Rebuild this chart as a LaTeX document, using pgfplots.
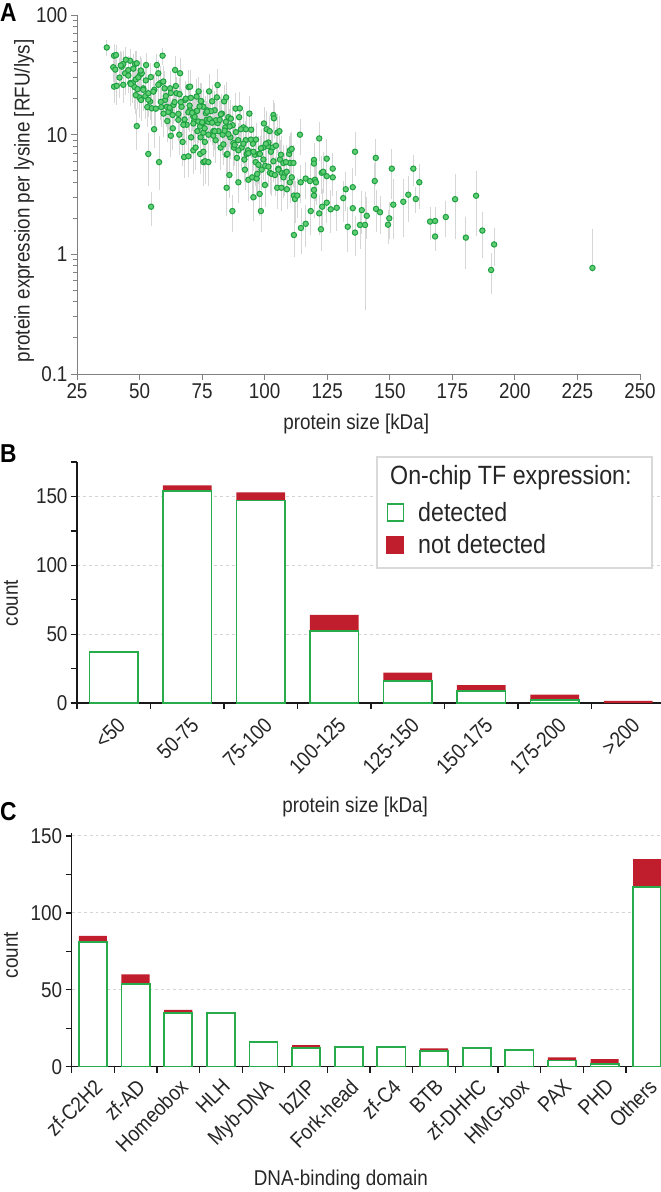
\documentclass[border=0pt]{standalone}
\usepackage{fontspec}
\setmainfont{Liberation Sans}[FakeStretch=0.88]
\usepackage{pgfplots}
\usepackage{pgfplotstable}
\pgfplotsset{compat=1.18}

\definecolor{ptgreen}{RGB}{30,160,65}
\definecolor{ptlight}{RGB}{95,205,115}
\definecolor{errgray}{RGB}{214,214,214}
\definecolor{bargreen}{RGB}{40,172,75}
\definecolor{barred}{RGB}{192,30,45}
\definecolor{gridgray}{RGB}{212,212,212}

% panel A: size [kDa], expression per lysine, error plus / minus
\pgfplotstableread{
x y ep em
36.9 53.5 6 6
39.8 45.7 9 8
40.6 46.3 8 9
39.5 36.6 7 8
40.3 35 8 7
39.8 25.2 9 6
40.9 25.6 8 7
42.0 30 12 9
42.9 37 10 8
43.5 39 9 9
44.2 32.6 11 10
45.5 34.7 9 8
46.2 41.5 8 10
46.3 27 10 9
47.3 27.2 9 8
48.2 39 9 10
48.9 39.5 8 9
48.0 25 9 8
48.5 29 8 7
49.2 24 10 7
49.9 20.5 9 6
50.2 31.6 8 9
50.9 32.6 9 8
50.6 19.5 7 6
51.5 24.4 10 8
52.6 38.2 8 9
52.3 21 6 7
53.5 22.2 7 6
53.1 17 6 5
54.2 18.9 6 5
54.9 16.6 6 4
48.9 11.8 4 4
55.8 11.1 4 3
53.5 6.9 3 3
54.6 2.5 0.7 0.7
55.9 23.7 7 7
56.9 38.2 7 9
57.5 32.6 8 8
58.2 26.9 9 8
57.8 5.9 3.5 2.3
58.7 17 6 5
59.2 45.7 5 6
59.6 15 5 5
60.2 19.5 7 6
60.9 17.1 6 5
61.1 13 5 4
62.2 24.4 8 8
62.1 16 6 5
62.5 9.8 3.5 3
63.2 14.6 5 4
63.3 11.3 4 3.5
64.2 34.7 9 10
64.8 22.2 7 7
65.5 13.3 5 4
65.9 10 4 3
66.2 32.6 9 8
66.8 17.1 6 5
67.2 8.7 3 3
67.8 6.5 3 2
68.2 19.5 7 6
68.8 12.1 4 3.5
69.5 6.6 3 2
69.6 25 8 7
70.2 25.2 8 7
70.1 16 5 5
70.6 9.5 3 3
71.5 14.1 5 4
71.5 7.4 3 2.5
71.8 13 5 4
72.8 20.8 7 6
72.4 7.8 4 2.5
73.1 10.7 4 3
73.6 23 6 7
74.2 11.7 4 3.5
74.2 6.9 3 2
74.4 9.5 3 3
74.7 19 7 6
75.5 17.1 6 5
75.3 12.5 5 4
75.5 7.2 3 2
75.5 5.9 2.5 2
76.1 8.7 3 3
76.2 6.0 2.5 2
76.8 13.3 5 4
77.0 16 5 5
77.5 10 4 3
77.5 5.9 2.5 2
77.8 23 8 7
78.3 13 5 4
79.0 19 6 6
79.5 10.7 4 3
80.0 16 6 5
80.4 9 3 3
80.9 20.5 6 6
81.2 26 8 7
81.2 12.5 5 4
82.4 7.8 3 2.5
82.9 15 6 5
83.2 10 4 3
83.8 19 6 6
84.3 11.5 4 3.5
84.6 20.5 6 6
84.8 6.8 3 2
84.8 3.6 1.5 1.4
85.1 6.9 3 2
85.5 14 5 4
85.9 4.6 2 1.5
86.3 9.5 3 3
87.1 2.3 0.7 0.7
87.2 12 5 4
87.7 7.8 3 2.5
88.4 16.5 5 5
88.9 6.4 3 2
89.4 9 3 3
89.5 4.0 1.5 1.2
89.8 14 5 4
90.1 16.6 5 5
90.8 7.8 3 2.5
91.5 11.5 4 3.5
91.9 6.2 2.5 2
92.1 5.1 2 1.5
92.4 9 3.5 3
92.8 6.9 2.5 2
93.3 7.4 3 2.5
93.5 4.2 1.5 1.3
93.9 15.0 5 4
94.6 11 4 3
95.0 4.4 2 1.5
95.3 8.4 3 2.5
95.5 3.0 1 1
96.1 6.8 2.5 2
96.4 5.9 2.5 2
96.8 4.3 1.5 1.3
97.0 4.7 2 1.5
97.6 6.9 2.5 2
98.0 3.2 1.2 1
98.1 6.9 2.5 2
98.5 2.3 0.8 0.7
98.8 5.1 2 1.5
99.4 7.8 3 2.5
99.7 12.4 4 3.5
100.1 3.8 1.3 1.2
100.2 5.5 2 1.8
100.8 11.1 4 3
101.4 8 3 2.5
101.5 8.6 3 2.5
102.0 10.7 3 3
102.1 4.8 1.7 1.5
102.8 4.7 2 1.5
103.2 7.8 2.5 2
103.5 14.6 4 4
103.7 13.7 4 4
104.1 4.6 1.6 1.4
105.0 3.6 1.3 1.1
105.1 10.4 4 3
105.5 5.2 2 1.5
105.9 10.7 3 3
106.1 6.2 2.5 2
106.7 3.6 1.5 1.2
106.8 4.8 1.7 1.5
107.5 5.8 2 2
108.0 4.7 2 1.5
108.8 4.9 1.7 1.5
108.9 3.5 1.2 1
109.8 6.9 2.5 2
110.1 5.8 2 2
110.1 7.4 2.5 2
110.1 4.0 1.5 1.2
110.8 7.6 2.5 2
110.8 4.4 1.5 1.3
111.5 5.8 2 2
111.7 3.1 1.2 1
111.7 1.45 0.6 0.45
112.1 2.9 1 1
113.0 3.1 1.1 1
114.1 10 3 3
114.4 4.0 1.3 1.2
114.5 1.66 0.7 0.6
116.4 4.3 1.4 1.3
116.4 1.8 0.7 0.6
118.1 4.1 1.4 1.3
118.4 2.3 0.9 0.8
119.7 6.15 2 2
119.7 5.74 2 2
119.7 3.45 1.3 1.2
119.7 3.1 1 1
120.1 4.2 1.6 1.3
120.5 4.0 1.4 1.3
121.8 9.3 3 3
121.8 2.2 0.8 0.7
122.5 1.62 0.5 0.5
122.8 4.8 1.5 1.5
123.0 2.5 0.9 0.8
123.4 4.9 2 1.5
124.8 6.3 2.5 2
124.8 4.5 1.5 1.5
124.8 2.7 0.9 0.8
126.4 2.38 0.9 0.8
127.2 4.4 1.2 1.2
127.2 5.2 1.5 1.5
128.8 2.45 0.8 0.8
131.4 2.95 1 1
132.4 3.5 1.2 1.1
133.2 1.7 0.7 0.6
135.2 3.64 1.4 1.3
135.2 2.43 0.8 0.8
136.1 7.2 2.8 2.5
136.1 1.52 0.5 0.5
138.1 1.76 0.6 0.6
138.8 2.34 0.9 0.8
140.1 1.76 1.4 1.4
140.8 2.1 0.8 0.7
144.0 4.1 1.5 1.4
144.4 6.4 2.5 2.5
144.5 2.4 0.9 0.8
146.1 2.25 0.7 0.7
149.3 1.77 0.5 0.5
149.8 2.0 0.6 0.6
150.8 5.2 2.1 2.2
151.4 2.6 1.5 1.2
155.4 2.75 1.3 1.3
157.4 3.15 1.2 1.2
159.4 5.2 1.3 1.3
160.4 2.9 0.6 0.6
161.8 4.0 1.5 1.5
166.1 1.88 0.5 0.5
168.1 1.9 0.5 0.5
168.1 1.41 0.3 0.3
172.4 2.05 0.65 0.6
176.1 2.89 1.6 1.5
180.4 1.38 0.6 0.6
184.5 3.09 1.7 1.6
187.0 1.58 0.6 0.6
190.5 0.74 0.24 0.25
191.7 1.21 0.37 0.38
231.0 0.77 0.8 0.02
42.5 37.9 10 9
43.5 26.1 9 7
44.5 42.3 9 10
45.5 31.2 10 8
46.5 26.5 8 7
47.5 35.6 10 9
48.5 21.4 8 6
49.5 30.1 9 8
50.5 34.4 9 9
51.5 23.7 8 6
52.5 28.4 9 8
53.5 19.6 7 5
54.5 30.3 8 8
55.5 22.9 8 6
56.5 16.5 6 5
57.5 26.1 8 7
58.5 18.8 7 5
59.5 27.8 8 7
60.5 21.0 7 6
61.5 15.5 6 4
62.5 22.3 7 6
63.5 17.7 6 5
64.5 25.5 8 7
65.5 14.9 5 4
66.5 18.7 6 5
67.5 12.1 5 3.5
68.5 20.0 7 6
69.5 15.4 5 4
70.5 20.3 7 6
71.5 12.4 5 3.5
72.5 15.6 6 4
73.5 12.9 5 4
74.5 19.1 7 5
75.5 10.4 4 3
76.5 15.1 5 4
77.5 12.8 5 4
78.5 15.7 6 4
79.5 9.8 4 3
80.5 13.2 5 4
81.5 10.7 4 3
82.5 14.8 5 4
83.5 8.3 3 2.5
84.5 12.8 5 4
85.5 10.1 4 3
86.5 13.6 5 4
87.5 8.5 3 2.5
88.5 10.5 4 3
89.5 7.4 3 2
90.5 11.1 4 3
91.5 8.4 3 2.5
92.5 11.1 4 3
93.5 7.0 3 2
94.5 9.1 3 2.5
95.5 7.2 3 2
96.5 9.1 3 2.5
97.5 5.6 2 1.6
98.5 7.7 3 2
99.5 6.2 2.5 1.8
100.5 8.4 3 2.5
101.5 5.4 2 1.6
102.5 7.2 2.5 2
103.5 6.0 2 1.8
104.5 8.1 3 2.3
105.5 5.1 2 1.5
106.5 6.8 2.5 2
107.5 4.4 1.6 1.3
108.5 5.9 2 1.7
60.0 24.4 8 7
62.0 16.8 6 5
64.0 18.7 6 5
66.0 21.8 7 6
68.0 13.4 5 4
70.0 17.5 6 5
72.0 14.1 5 4
74.0 17.2 6 5
76.0 11.3 4 3
78.0 13.5 5 4
80.0 10.7 4 3
82.0 13.3 5 4
84.0 10.8 4 3
86.0 11.7 4 3.5
88.0 8.2 3 2.5
71.0 15.2 5 4
73.0 15.8 6 4
75.0 12.7 5 4
77.0 15.6 5 4
79.0 12.6 5 4
}\sizedata

% panel B: counts per size bin
\pgfplotstableread{
c det nd
0 37 0
1 154 4
2 147 6
3 52 12
4 16 6
5 9 4
6 2 4
7 0 1.5
}\sizebins

% panel C: counts per DNA-binding domain
\pgfplotstableread{
c det nd
0 81 4
1 54 6
2 35 2
3 35 0
4 16 0
5 12 2
6 13 0
7 13 0
8 10 2
9 12 0
10 11 0
11 4 2
12 2 3
13 117 18
}\domains

\begin{document}
\begin{tikzpicture}
\useasboundingbox (0,0) rectangle (661bp,-1192bp);
\pgfplotsset{
  /pgf/number format/assume math mode=true,
  tick label style={font=\fontsize{21.5}{21.5}\selectfont, text=black!85},
  label style={font=\fontsize{21.5}{21.5}\selectfont, text=black!85},
  scale only axis,
  tick align=outside,
}

% ---------- A ----------
\begin{axis}[
  at={(77bp,-374bp)}, anchor=south west,
  width=563bp, height=359bp,
  ymode=log, xmin=25, xmax=250, ymin=0.1, ymax=100,
  axis x line*=bottom, axis y line*=left,
  axis line style={-, black!50, line width=1bp},
  tick style={black!50, line width=1bp},
  major tick length=6bp, minor tick length=3.5bp,
  xtick={25,50,...,250},
  ytick={0.1,1,10,100}, yticklabels={0.1,1,10,100},
  minor ytick={0.2,0.3,0.4,0.5,0.6,0.7,0.8,0.9,2,3,4,5,6,7,8,9,20,30,40,50,60,70,80,90},
  xlabel={protein size [kDa]},
  ylabel={protein expression per lysine [RFU/lys]},
  xlabel style={at={([yshift=-50bp]rel axis cs:0.496,0)}, anchor=center},
  ylabel style={at={([xshift=-53bp]rel axis cs:0,0.482)}, anchor=center},
]
\addplot[only marks, mark=none, forget plot,
  error bars/.cd, y dir=both, y explicit,
  error bar style={draw=errgray, line width=0.8bp},
  error mark options={draw=errgray, mark size=2.2bp, line width=0.8bp}]
  table[x=x, y=y, y error plus=ep, y error minus=em]{\sizedata};
\addplot[only marks, mark=*, mark size=2.7bp,
  mark options={draw=ptgreen, fill=ptlight, line width=1bp}]
  table[x=x, y=y]{\sizedata};
\end{axis}

% ---------- B ----------
\begin{axis}[
  at={(77bp,-703bp)}, anchor=south west,
  width=588bp, height=241bp,
  xmin=-0.5, xmax=7.5, ymin=0, ymax=175,
  ybar stacked, bar width=0.66,
  axis x line*=bottom, axis y line*=left,
  axis line style={-, black!90, line width=1.3bp},
  tick style={black!90, line width=1.3bp},
  major tick length=6bp, minor tick length=6bp,
  xtick={0,...,7},
  xticklabels={{<50},{50-75},{75-100},{100-125},{125-150},{150-175},{175-200},{>200}},
  major x tick style={draw=none},
  minor xtick={-0.5,0.5,...,7.5},
  ytick={0,50,100,150}, minor ytick={25,75,125,175},
  ymajorgrids, grid style={dashed, gridgray, line width=1bp},
  x tick label style={rotate=45, anchor=north east, yshift=-3bp},
  xlabel={protein size [kDa]}, ylabel={count},
  xlabel style={at={([yshift=-104bp]rel axis cs:0.473,0)}, anchor=center},
  ylabel style={at={([xshift=-66bp]rel axis cs:0,0.415)}, anchor=center},
]
\addplot[fill=white, draw=bargreen, line width=1.8bp] table[x=c, y=det]{\sizebins};
\addplot[fill=barred, draw=none] table[x=c, y=nd]{\sizebins};
\end{axis}

% legend of B
\draw[gray!30, line width=1.5bp, fill=white] (377bp,-457bp) rectangle (652bp,-568bp);
\node[anchor=base west, inner sep=0, font=\fontsize{26.5}{27}\selectfont, text=black!85] at (390bp,-484bp) {On-chip TF expression:};
\draw[bargreen, line width=1.5bp, fill=white] (387.5bp,-504bp) rectangle (403.5bp,-521bp);
\node[anchor=base west, inner sep=0, font=\fontsize{26.5}{27}\selectfont, text=black!85] at (418bp,-521bp) {detected};
\fill[barred] (386bp,-536bp) rectangle (404bp,-554bp);
\node[anchor=base west, inner sep=0, font=\fontsize{26.5}{27}\selectfont, text=black!85] at (418bp,-553bp) {not detected};

% ---------- C ----------
\begin{axis}[
  at={(71.6bp,-1066.7bp)}, anchor=south west,
  width=597bp, height=233.8bp,
  xmin=-0.5, xmax=13.5, ymin=0, ymax=152,
  ybar stacked, bar width=0.66,
  axis x line*=bottom, axis y line*=left,
  axis line style={-, black!90, line width=1.3bp},
  tick style={black!90, line width=1.3bp},
  major tick length=6bp, minor tick length=6bp,
  xtick={0,...,13},
  xticklabels={zf-C2H2,zf-AD,Homeobox,HLH,Myb-DNA,bZIP,Fork-head,zf-C4,BTB,zf-DHHC,HMG-box,PAX,PHD,Others},
  major x tick style={draw=none},
  minor xtick={-0.5,0.5,...,13.5},
  ytick={0,50,100,150}, minor ytick={25,75,125},
  ymajorgrids, grid style={dashed, gridgray, line width=1bp},
  x tick label style={rotate=45, anchor=north east},
  xlabel={DNA-binding domain}, ylabel={count},
  xlabel style={at={([yshift=-113bp]rel axis cs:0.451,0)}, anchor=center},
  ylabel style={at={([xshift=-60.6bp]rel axis cs:0,0.478)}, anchor=center},
]
\addplot[fill=white, draw=bargreen, line width=1.8bp] table[x=c, y=det]{\domains};
\addplot[fill=barred, draw=none] table[x=c, y=nd]{\domains};
\end{axis}

\node[anchor=base west, inner sep=0, font=\bfseries\fontsize{26}{26}\selectfont] at (0bp,-21bp) {A};
\node[anchor=base west, inner sep=0, font=\bfseries\fontsize{26}{26}\selectfont] at (0bp,-462bp) {B};
\node[anchor=base west, inner sep=0, font=\bfseries\fontsize{26}{26}\selectfont] at (0bp,-820bp) {C};
\end{tikzpicture}
\end{document}
